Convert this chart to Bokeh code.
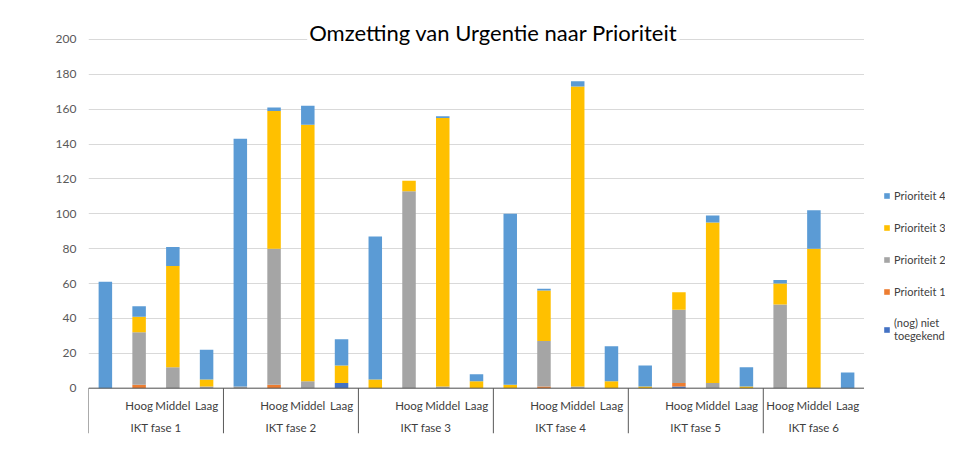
from bokeh.plotting import figure
from bokeh.layouts import row
from bokeh.models import FactorRange, Range1d, FixedTicker, Legend, LegendItem, Label, ColumnDataSource
from bokeh.core.properties import value
from bokeh.embed import file_html
from bokeh.resources import INLINE

title_text = "Omzetting van Urgentie naar Prioriteit"
fases = ["IKT fase 1", "IKT fase 2", "IKT fase 3", "IKT fase 4", "IKT fase 5", "IKT fase 6"]
subs_per_fase = [
    ["", "Hoog", "Middel", "Laag"],
    ["", "Hoog", "Middel", "Laag"],
    ["", "Hoog", "Middel", "Laag"],
    ["", "Hoog", "Middel", "Laag"],
    ["", "Hoog", "Middel", "Laag"],
    ["Hoog", "Middel", "Laag"],
]
series_names = ["(nog) niet\ntoegekend", "Prioriteit 1", "Prioriteit 2", "Prioriteit 3", "Prioriteit 4"]
niet_toegekend = [0, 0, 0, 0,  0, 0, 0, 3,  0, 0, 0, 0,  0, 0, 0, 0,  0, 1, 0, 0,  0, 0, 0]
prioriteit_1 = [0, 2, 0, 0,  0, 2, 0, 0,  0, 0, 0, 0,  0, 1, 0, 0,  0, 2, 0, 0,  0, 0, 0]
prioriteit_2 = [0, 30, 12, 1,  1, 78, 4, 0,  0, 113, 1, 0,  0, 26, 1, 0,  0, 42, 3, 0,  48, 0, 0]
prioriteit_3 = [0, 9, 58, 4,  0, 79, 147, 10,  5, 6, 154, 4,  2, 29, 172, 4,  1, 10, 92, 1,  12, 80, 0]
prioriteit_4 = [61, 6, 11, 17,  142, 2, 11, 15,  82, 0, 1, 4,  98, 1, 3, 20,  12, 0, 4, 11,  2, 22, 9]
y_ticks = [0, 20, 40, 60, 80, 100, 120, 140, 160, 180, 200]
colors = ["#4472C4", "#ED7D31", "#A5A5A5", "#FFC000", "#5B9BD5"]

FONT = "Lato"
factors = [(f, s) for f, subs in zip(fases, subs_per_fase) for s in subs]
keys = ["s0", "s1", "s2", "s3", "s4"]
src = ColumnDataSource(dict(x=factors, s0=niet_toegekend, s1=prioriteit_1, s2=prioriteit_2,
                            s3=prioriteit_3, s4=prioriteit_4))

x_range = FactorRange(*factors, factor_padding=0, group_padding=0, range_padding=0)
p = figure(width=864, height=436, x_range=x_range, y_range=Range1d(-26, 212),
           output_backend="svg", toolbar_location=None, x_axis_location=None,
           min_border_left=88, min_border_right=0, min_border_top=18, min_border_bottom=3)
p.outline_line_color = None
p.xgrid.grid_line_color = None
p.ygrid.ticker = FixedTicker(ticks=y_ticks)
p.ygrid.grid_line_color = "#d9d9d9"
p.yaxis.ticker = FixedTicker(ticks=y_ticks)
p.yaxis.axis_line_color = None
p.yaxis.major_tick_line_color = None
p.yaxis.minor_tick_line_color = None
p.yaxis.major_label_standoff = 6
p.yaxis.major_label_text_font = FONT
p.yaxis.major_label_text_font_size = "12px"
p.yaxis.major_label_text_color = "#595959"

renderers = p.vbar_stack(keys, x="x", width=0.4, source=src, color=colors, line_color=None)

# category axis: line, separators, labels
first = [(f, subs[0], -0.5) for f, subs in zip(fases, subs_per_fase)]
last = (fases[-1], subs_per_fase[-1][-1], 0.5)
seps = first + [last]
p.segment(x0=[first[0]], y0=[0], x1=[last], y1=[0], line_color="#595959", line_width=1)
p.segment(x0=seps, y0=[0] * len(seps), x1=seps, y1=[-26] * len(seps), line_color="#595959", line_width=1)

sub_f = [f for f in factors if f[1]]
p.text(x=sub_f, y=[-9.7] * len(sub_f), text=[f[1] for f in sub_f], text_align="center",
       text_baseline="middle", text_font=value(FONT), text_font_size="11.5px", text_color="#404040")
p.text(x=fases, y=[-22.3] * len(fases), text=fases, text_align="center",
       text_baseline="middle", text_font=value(FONT), text_font_size="11.5px", text_color="#404040")

title = Label(x=12.0, y=204, text=title_text, text_align="center", text_baseline="middle",
              text_font=FONT, text_font_size="22px", text_color="#000000",
              background_fill_color="white", padding=2)
p.add_layout(title)

# legend panel: a separate narrow figure to the right of the plot area; its stacked
# renderers use the same data with zero width and a y range far away, so only the legend shows
lg = figure(width=81, height=436, x_range=FactorRange(*factors), y_range=Range1d(-2000, -1000),
            output_backend="svg", toolbar_location=None, x_axis_location=None, y_axis_location=None,
            min_border_left=0, min_border_right=0, min_border_top=0, min_border_bottom=0)
lg.grid.visible = False
lg.outline_line_color = None
leg_r = lg.vbar_stack(keys, x="x", width=0, source=src, color=colors, line_color=None)
items = [LegendItem(label=series_names[i], renderers=[leg_r[i]]) for i in [4, 3, 2, 1, 0]]
legend = Legend(items=items, location=(19, 91), padding=0, margin=0, border_line_color=None,
                background_fill_alpha=0, glyph_width=7, glyph_height=7, label_height=14,
                spacing=18, label_standoff=4, label_text_font=FONT, label_text_font_size="11px",
                label_text_color="#404040")
lg.add_layout(legend)

layout = row(p, lg)
open("out.html", "w").write(file_html(layout, INLINE))
